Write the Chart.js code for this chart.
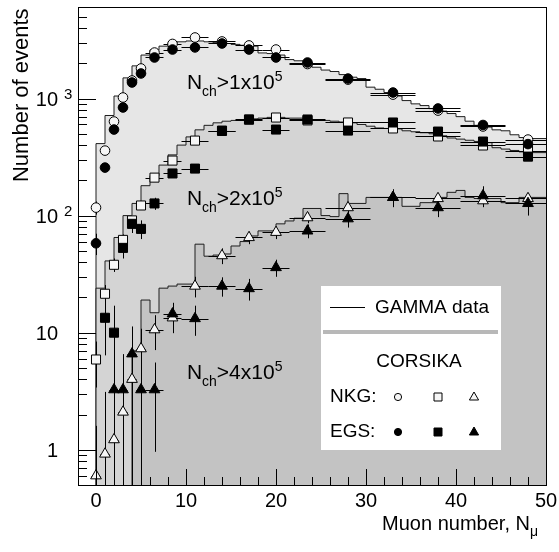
<!DOCTYPE html>
<html><head><meta charset="utf-8">
<script src="https://cdn.jsdelivr.net/npm/chart.js@4/dist/chart.umd.min.js"></script>
<style>html,body{margin:0;padding:0;background:#fff;overflow:hidden}#wrap{width:559px;height:552px}</style>
</head><body><div id="wrap"><canvas id="c" width="559" height="552"></canvas></div>
<script>
// ---------- DATA ----------
const binLeft = [0,1,2,3,4,5,6,7,8,9,10,11,12,13,14,15,16,17,18,19,20,21,22,23,24,25,26,27,28,29,30,31,32,33,34,35,36,37,38,39,40,41,42,43,44,45,46,47,48,49];
const binRight = 50;
// GAMMA data histograms (events per bin)
const gammaNch1e5 = [95,412,716,1050,1500,1900,2350,2600,2800,2950,3050,3100,3100,3050,3000,2950,2900,2850,2800,2450,2420,2350,2150,2100,2050,1850,1750,1700,1600,1520,1480,1250,1200,1125,1050,960,900,870,820,780,744,700,640,590,570,540,530,490,464,455];
const gammaNch2e5 = [10,24,41,65,100,127,180,219,270,330,400,470,540,590,620,640,650,660,670,680,690,690,680,680,670,660,650,640,630,620,600,580,560,555,550,530,520,510,500,480,460,450,440,430,420,380,370,360,350,345];
const gammaNch4e5 = [null,null,null,null,4.9,7.0,19,14.8,24,25,26,26,57,45,46,47,55,60,67,74,74,85,90,95,115,115,100,98,154,127,127,143,143,143,143,120,120,129,129,143,158,164,143,140,140,140,129,129,143,143];
// CORSIKA points
const mcX        = [0,1,2,3,4,5,6.5,8.5,11,14,17,20,23.5,28,33,38,43,48];
const mcHalfW    = [0.5,0.5,0.5,0.5,0.5,0.5,1,1,1.5,1.5,1.5,1.5,2,2.5,2.5,2.5,2.5,2.5];
const nkg1e5     = [117,359,636,1020,1425,1805,2470,2925,3320,3070,2840,2620,1970,1450,1080,789,577,446];
const nkg1e5Err  = [15,20,25,30,35,40,45,50,55,55,50,50,45,40,35,30,25,20];
const egs1e5     = [58,257,543,838,1370,1636,2240,2620,2730,2950,2620,2240,2030,1480,1125,822,594,408];
const egs1e5Err  = [12,18,25,30,35,40,45,50,50,50,50,45,45,40,35,30,25,20];
const nkg2e5     = [5.9,21.5,38,62,91,122,211,295,437,528,660,688,650,624,555,474,397,359];
const nkg2e5Err  = [2.5,4,5,7,8,10,12,15,18,22,25,25,25,25,22,20,18,17];
const egs2e5     = [null,13.4,10,53,85,77,127,229,252,532,662,543,662,532,624,522,429,319];
const egs2e5Err  = [null,7,7,10,14,14,15,15,20,30,35,30,35,30,35,30,28,25];
const nkg4e5     = [0.6,0.92,1.22,2.1,4.0,7.3,10.6,13.4,25,45.5,65,72,96,117,143,140,134,140];
const nkg4e5Err  = [1.0,2.2,1.5,3,3.5,3.5,3.5,3.5,5,7,8,9,10,12,14,14,13,14];
const egs4e5     = [null,null,3.26,3.26,6.6,3.26,3.26,14.5,13.2,25,23.8,36,74,94,143,117,148,127];
const egs4e5Err  = [null,null,12.7,3.3,4.7,7.3,2.3,3.5,3.8,4.7,5,6,10,15,25,20,30,27];
// axes
const xMin = -2, xMax = 50, yMin = 0.5, yMax = 6000;
const xMajorTicks = [0,10,20,30,40,50];
const xTickLabels = ['0','10','20','30','40','50'];
const yMajorTicks = [1,10,100,1000];
const yTickBase   = ['1','10','10','10'];
const yTickExp    = ['','','2','3'];

// ---------- BUILD ----------
function histPoints(vals){
  const pts=[]; let started=false;
  for(let i=0;i<binLeft.length;i++){
    const v=vals[i]; if(v==null) continue;
    if(!started){pts.push({x:binLeft[i],y:0.2}); started=true;}
    pts.push({x:binLeft[i],y:v});
  }
  pts.push({x:binRight,y:vals[vals.length-1]});
  return pts;
}
function pts(vals){ return mcX.map((x,i)=>({x:x,y:vals[i]})).filter(p=>p.y!=null); }
function errs(vals,e){ return mcX.map((x,i)=>({x:x,hw:mcHalfW[i],y:vals[i],e:e[i]})).filter(p=>p.y!=null); }

const OPEN='#f6f6f6';
function hist(data,fillCol,order){
  return {type:'line',data:histPoints(data),stepped:'after',borderColor:'#1e1e1e',borderWidth:1,
    backgroundColor:fillCol,fill:'start',pointRadius:0,order:order,tension:0};
}
function marker(vals,e,style,filled,r,order){
  return {type:'scatter',data:pts(vals),errBars:errs(vals,e),pointStyle:style,pointRadius:r,
    backgroundColor:filled?'#000':OPEN,borderColor:'#000',borderWidth:1,order:order};
}
const datasets=[
  hist(gammaNch1e5,'#e6e6e6',10),
  hist(gammaNch2e5,'#d4d4d4',9),
  hist(gammaNch4e5,'#c3c3c3',8),
  marker(nkg1e5,nkg1e5Err,'circle',false,4.8,6),
  marker(nkg2e5,nkg2e5Err,'rect',false,6.4,5),
  marker(nkg4e5,nkg4e5Err,'triangle',false,6.2,4),
  marker(egs1e5,egs1e5Err,'circle',true,4.8,3),
  marker(egs2e5,egs2e5Err,'rect',true,6.4,2),
  marker(egs4e5,egs4e5Err,'triangle',true,6.2,1)
];
const FONT='"Liberation Sans", Arial, Helvetica, sans-serif';

function richText(ctx,x,y,parts){
  let cx=x;
  for(const p of parts){
    ctx.font=p.s+'px '+FONT;
    ctx.fillText(p.t,cx,y+(p.dy||0));
    cx+=ctx.measureText(p.t).width;
  }
}

const decor={
  id:'decor',
  afterDatasetDraw(chart,args){
    if(args.index!==2) return;
    const ctx=chart.ctx, xs=chart.scales.x, ys=chart.scales.y, a=chart.chartArea;
    ctx.save();
    ctx.beginPath(); ctx.rect(a.left,a.top,a.right-a.left,a.bottom-a.top); ctx.clip();
    ctx.strokeStyle='#000'; ctx.lineWidth=1;
    chart.data.datasets.forEach(ds=>{
      if(!ds.errBars) return;
      ds.errBars.forEach(p=>{
        const px=xs.getPixelForValue(p.x), py=ys.getPixelForValue(p.y);
        const x0=xs.getPixelForValue(p.x-p.hw), x1=xs.getPixelForValue(p.x+p.hw);
        ctx.beginPath(); ctx.moveTo(x0,Math.round(py)+0.5); ctx.lineTo(x1,Math.round(py)+0.5); ctx.stroke();
        const lo=p.y-p.e>0?ys.getPixelForValue(p.y-p.e):a.bottom;
        const hi=ys.getPixelForValue(p.y+p.e);
        ctx.beginPath(); ctx.moveTo(Math.round(px)+0.5,lo); ctx.lineTo(Math.round(px)+0.5,hi); ctx.stroke();
      });
    });
    ctx.restore();
  },
  afterDraw(chart){
    const ctx=chart.ctx, xs=chart.scales.x, ys=chart.scales.y, a=chart.chartArea;
    ctx.save();
    ctx.strokeStyle='#000'; ctx.lineWidth=1;
    // y ticks (inside, from left axis)
    ctx.beginPath();
    for(let d=0.1; d<=1000; d*=10){
      for(let m=1;m<=9;m++){
        const v=m*d; if(v<yMin*1.001||v>yMax) continue;
        const y=Math.round(ys.getPixelForValue(v))+0.5;
        const len=(m===1)?18:9;
        ctx.moveTo(a.left,y); ctx.lineTo(a.left+len,y);
      }
    }
    // x ticks (inside, from bottom)
    for(let v=xMin; v<=xMax; v+=2){
      const x=Math.round(xs.getPixelForValue(v))+0.5;
      const len=(v%10===0)?16:8;
      ctx.moveTo(x,a.bottom); ctx.lineTo(x,a.bottom-len);
    }
    ctx.stroke();
    // frame
    ctx.strokeRect(Math.round(a.left)+0.5,Math.round(a.top)+0.5,Math.round(a.right-a.left),Math.round(a.bottom-a.top));
    ctx.fillStyle='#000';
    // x tick labels
    ctx.font='20px '+FONT; ctx.textAlign='center'; ctx.textBaseline='middle';
    xMajorTicks.forEach((v,i)=>ctx.fillText(xTickLabels[i],xs.getPixelForValue(v),a.bottom+16));
    // y tick labels
    yMajorTicks.forEach((v,i)=>{
      const y=ys.getPixelForValue(v);
      ctx.font='20px '+FONT; ctx.textAlign='right'; ctx.textBaseline='middle';
      ctx.fillText(yTickBase[i],a.left-20,y+1.5);
      if(yTickExp[i]){ ctx.font='15px '+FONT; ctx.textAlign='left'; ctx.textBaseline='alphabetic';
        ctx.fillText(yTickExp[i],a.left-14,y); }
    });
    // axis titles
    ctx.textAlign='left'; ctx.textBaseline='alphabetic';
    ctx.font='20px '+FONT;
    const t1='Muon number, N'; const w1=ctx.measureText(t1).width;
    ctx.font='14px '+FONT; const w2=ctx.measureText('\u03bc').width;
    richText(ctx,538-w1-w2,a.bottom+45,[{t:t1,s:20},{t:'\u03bc',s:14,dy:6}]);
    ctx.save(); ctx.translate(22,a.top+1); ctx.rotate(-Math.PI/2);
    ctx.font='22px '+FONT; ctx.textAlign='right'; ctx.textBaseline='middle';
    ctx.fillText('Number of events',0,0); ctx.restore();
    // in-plot labels
    ctx.textAlign='left'; ctx.textBaseline='alphabetic';
    [['1',1217],['2',122],['4',4.05]].forEach(([k,v])=>{
      richText(ctx,xs.getPixelForValue(10.1),ys.getPixelForValue(v),
        [{t:'N',s:21},{t:'ch',s:14,dy:7},{t:'>'+k+'x10',s:21},{t:'5',s:14,dy:-8}]);
    });
    // legend
    ctx.fillStyle='#fff'; ctx.fillRect(321,286,180,164);
    ctx.beginPath(); ctx.moveTo(330,307.5); ctx.lineTo(365,307.5); ctx.stroke();
    ctx.fillStyle='#000'; ctx.font='19px '+FONT; ctx.textBaseline='middle';
    ctx.fillText('GAMMA data',375,308);
    ctx.fillStyle='#b8b8b8'; ctx.fillRect(323,330,175,4);
    ctx.fillStyle='#000'; ctx.textAlign='center'; ctx.fillText('CORSIKA',419,362);
    ctx.textAlign='left'; ctx.fillText('NKG:',330,397); ctx.fillText('EGS:',330,432);
    const lm=(cx,cy,shape,filled)=>{
      ctx.beginPath();
      if(shape==='c') ctx.arc(cx,cy,3.6,0,Math.PI*2);
      else if(shape==='s') ctx.rect(cx-4,cy-4,8,8);
      else { ctx.moveTo(cx,cy-5); ctx.lineTo(cx+4.6,cy+3); ctx.lineTo(cx-4.6,cy+3); ctx.closePath(); }
      ctx.fillStyle=filled?'#000':OPEN; ctx.fill(); ctx.strokeStyle='#000'; ctx.lineWidth=1; ctx.stroke();
    };
    lm(398,397,'c',false); lm(438,397,'s',false); lm(474,397,'t',false);
    lm(398,432,'c',true); lm(438,432,'s',true); lm(474,432,'t',true);
    ctx.restore();
  }
};

new Chart(document.getElementById('c'),{
  type:'scatter',
  data:{datasets:datasets},
  options:{
    animation:false,responsive:false,devicePixelRatio:1,events:[],
    layout:{padding:{left:78,right:13,top:7,bottom:67}},
    scales:{
      x:{type:'linear',min:xMin,max:xMax,display:false},
      y:{type:'logarithmic',min:yMin,max:yMax,display:false}
    },
    plugins:{legend:{display:false},tooltip:{enabled:false}}
  },
  plugins:[decor]
});
</script></body></html>
